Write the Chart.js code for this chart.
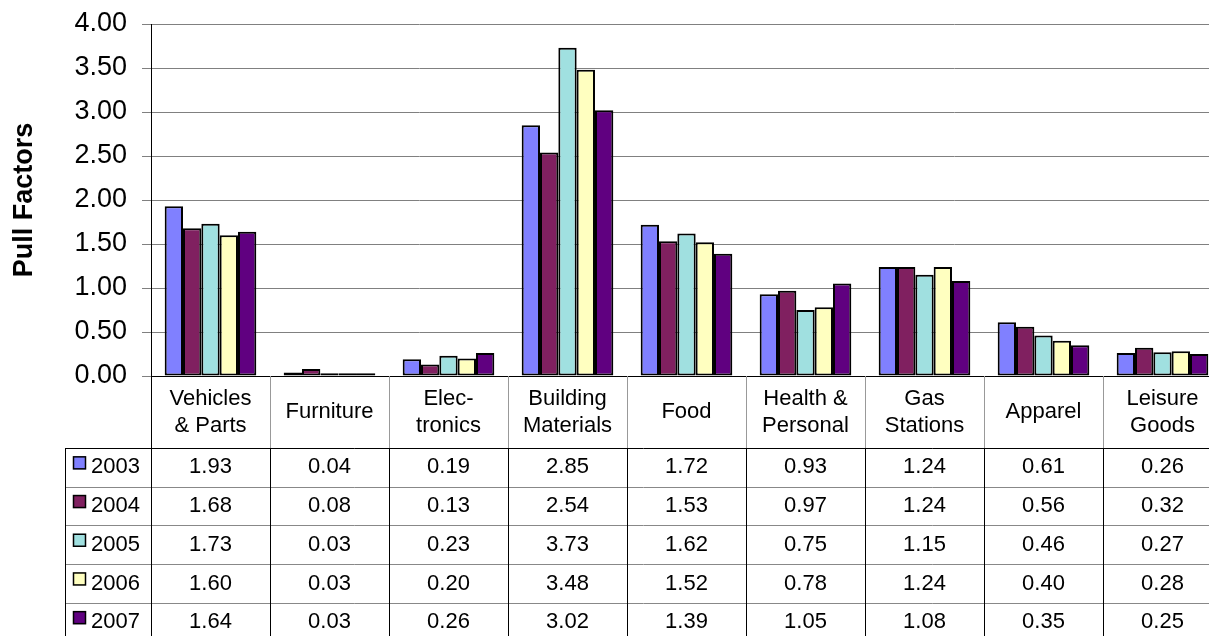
<!DOCTYPE html>
<html>
<head>
<meta charset="utf-8">
<script src="https://cdn.jsdelivr.net/npm/chart.js"></script>
<style>
  html, body { margin: 0; padding: 0; overflow: hidden; background: #fff; }
</style>
</head>
<body>
<canvas id="pullChart" width="1222" height="636"></canvas>
<script>
// categories and values
const categories = [
    ['Vehicles', '& Parts'], 'Furniture', ['Elec-', 'tronics'], ['Building', 'Materials'],
    'Food', ['Health &', 'Personal'], ['Gas', 'Stations'], 'Apparel', ['Leisure', 'Goods']
];
const years = ['2003', '2004', '2005', '2006', '2007'];
const v2003 = [1.93, 0.04, 0.19, 2.85, 1.72, 0.93, 1.24, 0.61, 0.26];
const v2004 = [1.68, 0.08, 0.13, 2.54, 1.53, 0.97, 1.24, 0.56, 0.32];
const v2005 = [1.73, 0.03, 0.23, 3.73, 1.62, 0.75, 1.15, 0.46, 0.27];
const v2006 = [1.60, 0.03, 0.20, 3.48, 1.52, 0.78, 1.24, 0.40, 0.28];
const v2007 = [1.64, 0.03, 0.26, 3.02, 1.39, 1.05, 1.08, 0.35, 0.25];
const colors = ['#8080FF', '#802060', '#A0E0E0', '#FFFFC0', '#600080'];

const FONT = '"Liberation Sans", Arial, sans-serif';
const HEADER_H = 72;     // category label band under the axis
const ROW_H = 38.7;      // data table rows
const TABLE_LEFT = 65;   // left edge of the legend column

const series = [v2003, v2004, v2005, v2006, v2007];

const data = {
    labels: categories,
    datasets: years.map(function (y, i) {
        return {
            label: y,
            data: series[i],
            backgroundColor: colors[i],
            borderColor: '#000',
            borderWidth: 2,
            borderSkipped: false,
            categoryPercentage: 0.77,
            barPercentage: 1.0
        };
    })
};

// draws the category band and the data table under the plot
const tablePlugin = {
    id: 'dataTable',
    afterDraw(chart) {
        const ctx = chart.ctx;
        const xs = chart.scales.x;
        const area = chart.chartArea;
        const n = categories.length;
        const colW = (xs.right - xs.left) / n;
        const headTop = area.bottom;
        const rowsTop = headTop + HEADER_H;
        const bottom = rowsTop + ROW_H * years.length;

        ctx.save();
        ctx.lineWidth = 1;

        // header separators (grey)
        ctx.strokeStyle = '#999';
        for (let i = 1; i < n; i++) {
            const x = Math.round(xs.left + i * colW) + 0.5;
            ctx.beginPath();
            ctx.moveTo(x, headTop);
            ctx.lineTo(x, rowsTop);
            ctx.stroke();
        }

        // row separators
        ctx.strokeStyle = '#888';
        for (let r = 1; r < years.length; r++) {
            const y = Math.round(rowsTop + r * ROW_H) + 0.5;
            ctx.beginPath();
            ctx.moveTo(TABLE_LEFT, y);
            ctx.lineTo(xs.right, y);
            ctx.stroke();
        }

        // dark table lines
        ctx.strokeStyle = '#000';
        ctx.beginPath();
        ctx.moveTo(TABLE_LEFT, Math.round(rowsTop) + 0.5);
        ctx.lineTo(xs.right, Math.round(rowsTop) + 0.5);
        ctx.moveTo(TABLE_LEFT + 0.5, rowsTop);
        ctx.lineTo(TABLE_LEFT + 0.5, bottom);
        ctx.moveTo(Math.round(xs.left) + 0.5, headTop);
        ctx.lineTo(Math.round(xs.left) + 0.5, bottom);
        for (let i = 1; i <= n; i++) {
            const x = Math.round(xs.left + i * colW) + 0.5;
            ctx.moveTo(x, rowsTop);
            ctx.lineTo(x, bottom);
        }
        ctx.stroke();

        // category labels
        ctx.fillStyle = '#000';
        ctx.textAlign = 'center';
        ctx.textBaseline = 'middle';
        ctx.font = '22px ' + FONT;
        const headMid = headTop + HEADER_H / 2;
        for (let i = 0; i < n; i++) {
            const cx = xs.getPixelForValue(i);
            const lines = Array.isArray(categories[i]) ? categories[i] : [categories[i]];
            const lh = 27;
            const y0 = headMid - (lines.length - 1) * lh / 2;
            lines.forEach(function (t, k) { ctx.fillText(t, cx, y0 + k * lh); });
        }

        // rows: legend key + values
        for (let r = 0; r < years.length; r++) {
            const cy = rowsTop + r * ROW_H + ROW_H / 2;
            ctx.fillStyle = colors[r];
            ctx.fillRect(73, cy - 11, 13, 13);
            ctx.lineWidth = 1.5;
            ctx.strokeStyle = '#000';
            ctx.strokeRect(73.5, cy - 10.5, 12, 12);
            ctx.fillStyle = '#000';
            ctx.textAlign = 'left';
            ctx.fillText(years[r], 91, cy);
            ctx.textAlign = 'center';
            for (let i = 0; i < n; i++) {
                ctx.fillText(series[r][i].toFixed(2), xs.getPixelForValue(i), cy);
            }
        }
        ctx.restore();
    }
};

const config = {
    type: 'bar',
    data: data,
    plugins: [tablePlugin],
    options: {
        responsive: false,
        animation: false,
        layout: { padding: { top: 24, left: 0, right: 0, bottom: 0 } },
        plugins: {
            legend: { display: false },
            tooltip: { enabled: false }
        },
        scales: {
            x: {
                ticks: { display: false },
                grid: { display: false },
                border: { color: '#000', width: 1 },
                afterFit: function (scale) { scale.height = 260; }
            },
            y: {
                min: 0,
                max: 4,
                ticks: {
                    stepSize: 0.5,
                    padding: 15,
                    color: '#000',
                    font: { family: FONT, size: 27 },
                    callback: function (v) { return v.toFixed(2); }
                },
                grid: { color: '#808080', tickLength: 9, lineWidth: 1 },
                border: { color: '#000', width: 1 },
                title: {
                    display: true,
                    text: 'Pull Factors',
                    color: '#000',
                    font: { family: FONT, size: 27, weight: 'bold' },
                    padding: { top: 8, bottom: 0 }
                },
                afterFit: function (scale) {
                    scale.width = 151;
                    // keep the plot top fixed, don't reserve room for the top label
                    scale.paddingTop = 0;
                    scale.paddingBottom = 0;
                }
            }
        }
    }
};

window.addEventListener('DOMContentLoaded', function () {
    new Chart(document.getElementById('pullChart'), config);
});
</script>
</body>
</html>
